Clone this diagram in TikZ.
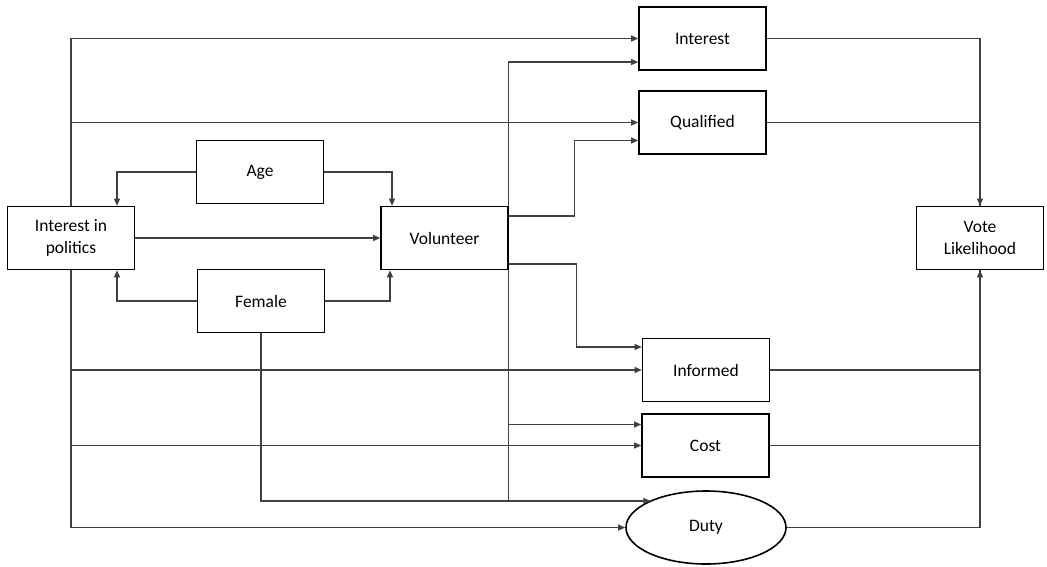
\documentclass[tikz,border=0pt]{standalone}
\usepackage{fontspec}
\setmainfont{Carlito}
\usetikzlibrary{arrows.meta}
\usetikzlibrary{shapes.geometric}
\usetikzlibrary{positioning}
\definecolor{mgray}{rgb}{0.25, 0.25, 0.25}

\begin{document}
\begin{tikzpicture}[x=1pt, y=-1pt,
    box/.style={draw, line width=1.6pt, minimum width=127pt, minimum height=63pt, align=center, font=\fontsize{17.5}{21.5}\selectfont},
    link/.style={mgray, line width=1.1pt},
    arr/.style={link, -{Triangle[length=7pt, width=6pt]}}]
  \useasboundingbox (0, 0) rectangle (1047, 566);

  \node [box] (pol) at (71, 238) {Interest in\\politics};
  \node [box] (age) at (260, 172) {Age};
  \node [box] (fem) at (261, 301) {Female};
  \node [box] (vol) at (444.5, 238) {Volunteer};
  \node [box] (int) at (702.5, 38.5) {Interest};
  \node [box] (qual) at (702.5, 122.5) {Qualified};
  \node [box] (inf) at (706, 370) {Informed};
  \node [box] (cost) at (705.5, 445.5) {Cost};
  \node [box, ellipse, minimum width=160pt, minimum height=73pt] (duty) at (706, 527.5) {Duty};
  \node [box] (vote) at (980, 238) {Vote\\Likelihood};

  % age and female
  \draw [arr] (age.west) -| ([xshift=46pt]pol.north);
  \draw [arr] (age.east) -| ([xshift=-52.5pt]vol.north);
  \draw [arr] (fem.west) -| ([xshift=46pt]pol.south);
  \draw [arr] (fem.east) -| ([xshift=-54.5pt]vol.south);
  \draw [arr] (pol) -- (vol);

  % interest in politics trunk
  \draw [arr] (pol.north) |- (int.west);
  \draw [arr] (pol.north) |- (qual.west);
  \draw [arr] (pol.south) |- (inf.west);
  \draw [arr] (pol.south) |- (cost.west);
  \draw [arr] (pol.south) |- (duty.west);

  % volunteer trunk
  \coordinate (vb) at (vol.south east |- 0, 501);
  \draw [arr] (vol.north east) |- ([yshift=-23.5pt]int.west);
  \draw [arr] ([yshift=22pt]vol.east) -- ++(66, 0) |- ([yshift=-18pt]qual.west);
  \draw [arr] ([yshift=-26pt]vol.east) -- ++(68, 0) |- ([yshift=23pt]inf.west);
  \draw [arr] (vol.south east) |- ([yshift=21pt]cost.west);
  \draw [link] (fem.south) |- (vb);
  \draw [arr] (vol.south east) -- (vb) -- (vb -| duty.154);

  % into vote likelihood
  \draw [arr] (int.east) -| (vote.north);
  \draw [link] (qual.east) -| (vote.north);
  \draw [arr] (inf.east) -| (vote.south);
  \draw [link] (cost.east) -| (vote.south);
  \draw [link] (duty.east) -| (vote.south);
\end{tikzpicture}
\end{document}
